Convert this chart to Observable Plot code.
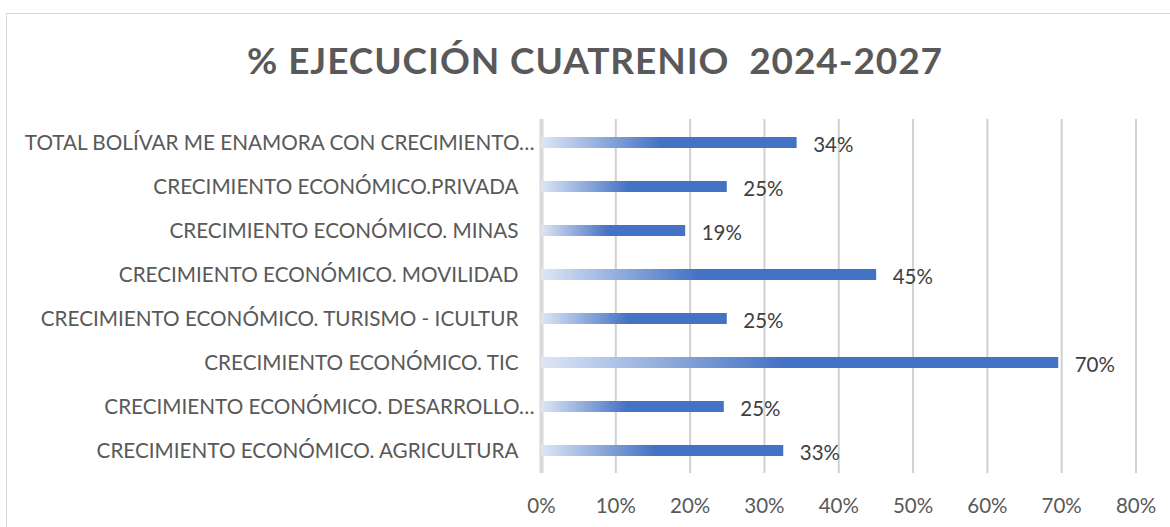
<!DOCTYPE html>
<html>
<head>
<meta charset="utf-8">
<script src="https://cdn.jsdelivr.net/npm/d3@7"></script>
<script src="https://cdn.jsdelivr.net/npm/@observablehq/plot@0.6"></script>
<style>
  html, body { margin: 0; padding: 0; background: #fff; width: 1170px; height: 527px; overflow: hidden; }
  #frame { position: absolute; left: 6px; top: 13px; width: 1200px; height: 600px; border: 1px solid #d9d9d9; box-sizing: border-box; }
  #title { position: absolute; left: 0; width: 1190px; top: 41px; text-align: center; font-family: Lato, "Open Sans", sans-serif; font-weight: 700; font-size: 37px; color: #595959; white-space: pre; line-height: 1; }
  #chart { position: absolute; left: 0; top: 0; }
</style>
</head>
<body>
<div id="frame"></div>
<div id="title"><span id="titleText">% EJECUCIÓN CUATRENIO  2024-2027</span></div>
<div id="chart"></div>
<script>
const categories = [
  "TOTAL BOLÍVAR ME ENAMORA CON CRECIMIENTO…",
  "CRECIMIENTO ECONÓMICO.PRIVADA",
  "CRECIMIENTO ECONÓMICO. MINAS",
  "CRECIMIENTO ECONÓMICO. MOVILIDAD",
  "CRECIMIENTO ECONÓMICO. TURISMO - ICULTUR",
  "CRECIMIENTO ECONÓMICO. TIC",
  "CRECIMIENTO ECONÓMICO. DESARROLLO…",
  "CRECIMIENTO ECONÓMICO. AGRICULTURA"
];
const values = [0.344, 0.25, 0.194, 0.451, 0.25, 0.696, 0.246, 0.326];
const xTicks = [0, 0.1, 0.2, 0.3, 0.4, 0.5, 0.6, 0.7, 0.8];

const data = categories.map((c, i) => ({category: c, value: values[i]}));
const pct = d3.format(".0%");
const truncated = categories.filter(c => c.endsWith("…"));
const full = categories.filter(c => !c.endsWith("…"));

const defs = () => {
  const g = d3.create("svg:defs");
  const lg = g.append("linearGradient").attr("id", "barGrad")
    .attr("x1", 0).attr("y1", 0).attr("x2", 1).attr("y2", 0);
  lg.append("stop").attr("offset", 0).attr("stop-color", "#dde6f5");
  lg.append("stop").attr("offset", 0.47).attr("stop-color", "#4472c4");
  lg.append("stop").attr("offset", 1).attr("stop-color", "#4472c4");
  return g.node();
};

const chart = Plot.plot({
  width: 1170,
  height: 527,
  marginLeft: 541,
  marginRight: 34.5,
  marginTop: 119,
  marginBottom: 54,
  style: {fontFamily: "Lato, 'Open Sans', sans-serif", background: "transparent", overflow: "visible"},
  x: {domain: [0, 0.8]},
  y: {domain: categories, paddingInner: 0.758, paddingOuter: 0.379},
  marks: [
    defs,
    Plot.gridX(xTicks.slice(1), {stroke: "#d0d0d0", strokeOpacity: 1, strokeWidth: 2}),
    Plot.ruleX([0], {stroke: "#d9d9d9", strokeWidth: 4}),
    Plot.barX(data, {x: "value", y: "category", fill: "url(#barGrad)"}),
    Plot.text(data, {x: "value", y: "category", text: d => pct(d.value), textAnchor: "start", dx: 16, dy: 2, fontSize: 20.5, fill: "#404040"}),
    Plot.axisX(xTicks, {tickFormat: pct, tickSize: 0, tickPadding: 25, fontSize: 20.5, fill: "#595959", label: null}),
    Plot.axisY(full, {tickSize: 0, tickPadding: 23, fontSize: 20.7, fill: "#595959", label: null}),
    Plot.axisY(truncated, {tickSize: 0, tickPadding: 7, fontSize: 20.7, fill: "#595959", label: null})
  ]
});
document.getElementById("chart").appendChild(chart);

// fit title width to reference (~696px)
const t = document.getElementById("titleText");
const w = t.getBoundingClientRect().width;
const n = t.textContent.length;
t.style.letterSpacing = ((696 - w) / n) + "px";
</script>
</body>
</html>
